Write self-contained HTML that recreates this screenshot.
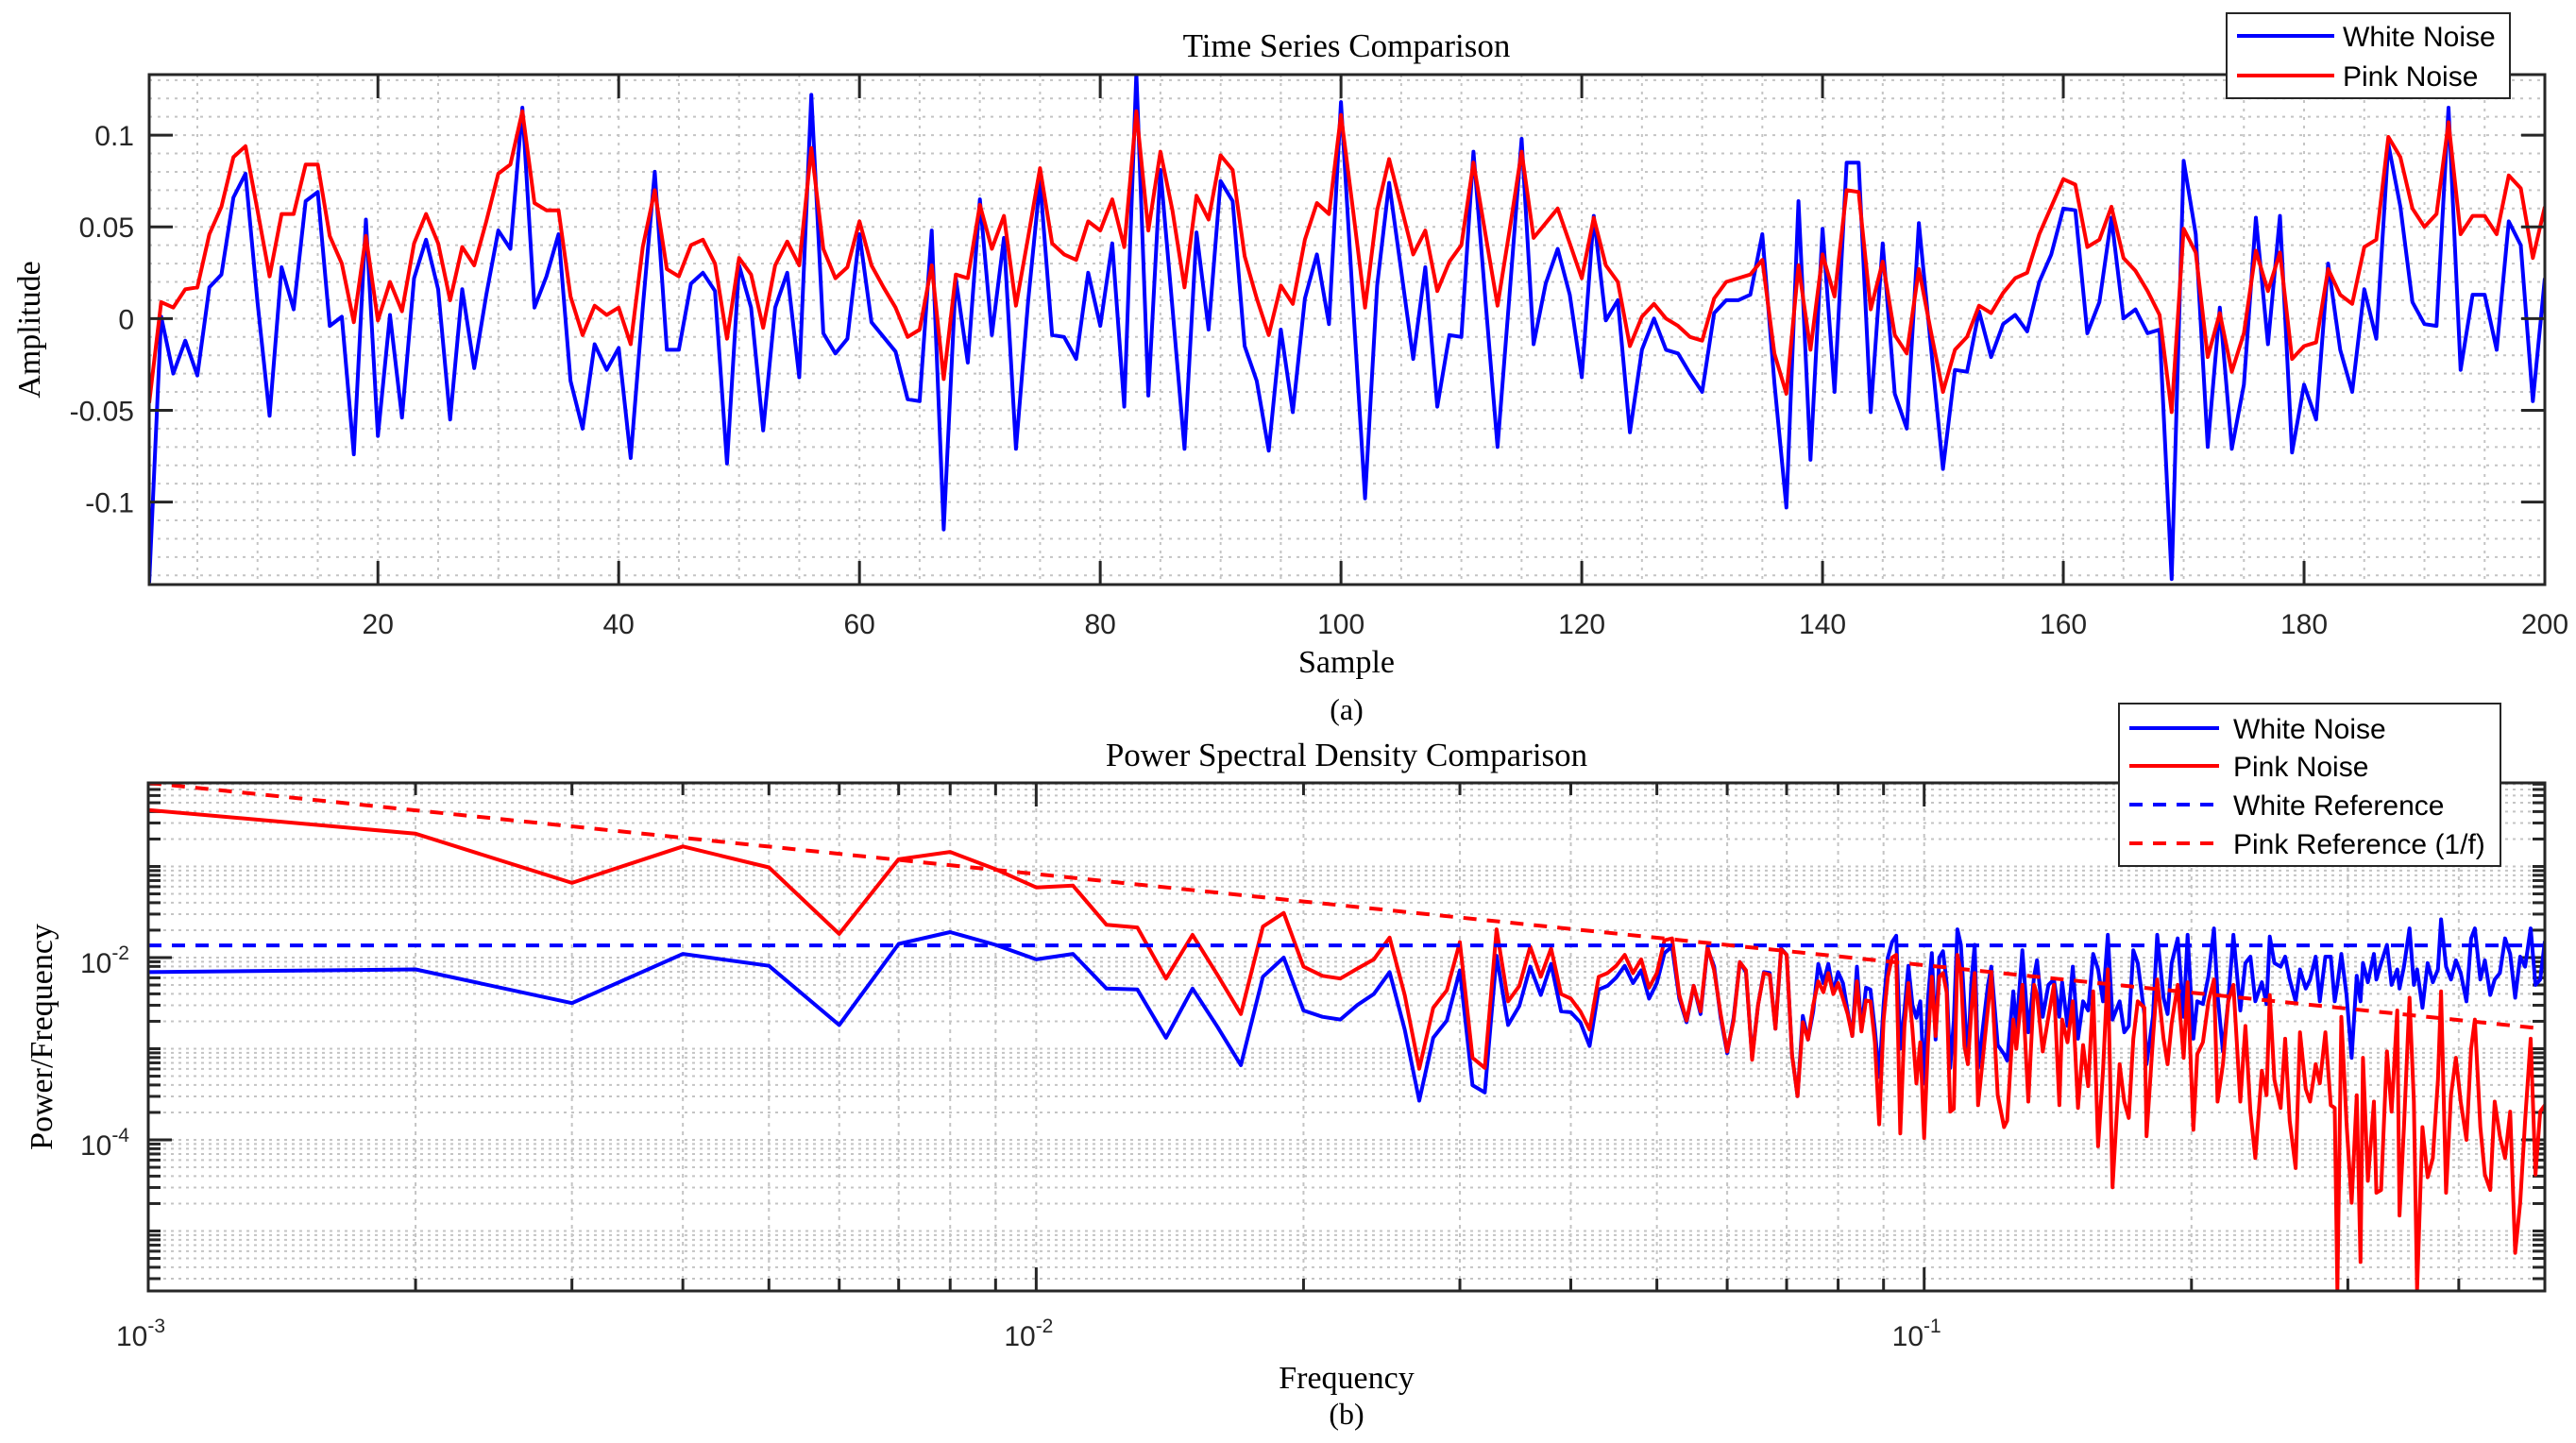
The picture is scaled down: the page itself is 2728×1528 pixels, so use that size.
<!DOCTYPE html>
<html><head><meta charset="utf-8"><style>
html,body{margin:0;padding:0;background:#fff;}
svg{display:block;}
.tick{font-family:"Liberation Sans",sans-serif;font-size:30px;fill:#262626;}
.ser{font-family:"Liberation Serif",serif;fill:#000;}
.leg{font-family:"Liberation Sans",sans-serif;font-size:30px;fill:#000;}
</style></head><body>
<svg id="fig" width="2728" height="1528" viewBox="0 0 2728 1528" xmlns="http://www.w3.org/2000/svg">
<rect width="2728" height="1528" fill="#fff"/>
<defs>
<clipPath id="clipTop"><rect x="158" y="79" width="2537" height="540"/></clipPath>
<clipPath id="clipBot"><rect x="157" y="829" width="2538" height="538"/></clipPath>
</defs>
<g id="topPanel"></g>
<g id="botPanel"></g>
<text class="ser" x="1426" y="60" font-size="35" text-anchor="middle">Time Series Comparison</text>
<text class="ser" x="1426" y="712" font-size="34" text-anchor="middle">Sample</text>
<text class="ser" x="1426" y="762" font-size="32" text-anchor="middle">(a)</text>
<text class="ser" x="0" y="0" font-size="34" text-anchor="middle" transform="translate(42,349) rotate(-90)">Amplitude</text>
<text class="ser" x="1426" y="811" font-size="35" text-anchor="middle">Power Spectral Density Comparison</text>
<text class="ser" x="1426" y="1470" font-size="34" text-anchor="middle">Frequency</text>
<text class="ser" x="1426" y="1508" font-size="32" text-anchor="middle">(b)</text>
<text class="ser" x="0" y="0" font-size="34" text-anchor="middle" transform="translate(55,1098) rotate(-90)">Power/Frequency</text>
</svg>
<script>
const sampleWhite=[-0.144,0.001,-0.030,-0.012,-0.031,0.017,0.024,0.066,0.079,0.009,
-0.053,0.028,0.005,0.064,0.069,-0.004,0.001,-0.074,0.054,-0.064,
0.002,-0.054,0.022,0.043,0.016,-0.055,0.016,-0.027,0.013,0.048,
0.038,0.115,0.006,0.023,0.046,-0.034,-0.060,-0.014,-0.028,-0.016,
-0.076,0.006,0.080,-0.017,-0.017,0.019,0.025,0.015,-0.079,0.029,
0.006,-0.061,0.006,0.025,-0.032,0.122,-0.008,-0.019,-0.011,0.046,
-0.002,-0.010,-0.018,-0.044,-0.045,0.048,-0.115,0.022,-0.024,0.065,
-0.009,0.044,-0.071,0.009,0.075,-0.009,-0.010,-0.022,0.025,-0.004,
0.041,-0.048,0.134,-0.042,0.081,0.006,-0.071,0.047,-0.006,0.075,
0.064,-0.015,-0.034,-0.072,-0.006,-0.051,0.011,0.035,-0.003,0.118,
0.008,-0.098,0.018,0.074,0.026,-0.022,0.028,-0.048,-0.009,-0.010,
0.091,0.010,-0.070,0.013,0.098,-0.014,0.019,0.038,0.013,-0.032,
0.056,-0.001,0.010,-0.062,-0.017,0.000,-0.017,-0.019,-0.030,-0.040,
0.003,0.010,0.010,0.013,0.046,-0.035,-0.103,0.064,-0.077,0.049,
-0.040,0.085,0.085,-0.051,0.041,-0.041,-0.060,0.052,-0.015,-0.082,
-0.028,-0.029,0.004,-0.021,-0.003,0.002,-0.007,0.020,0.035,0.060,
0.059,-0.008,0.009,0.055,0.000,0.005,-0.008,-0.006,-0.142,0.086,
0.046,-0.070,0.006,-0.071,-0.036,0.055,-0.014,0.056,-0.073,-0.036,
-0.055,0.030,-0.017,-0.040,0.016,-0.011,0.095,0.061,0.009,-0.003,
-0.004,0.115,-0.028,0.013,0.013,-0.017,0.053,0.040,-0.045,0.022];
const samplePink=[-0.046,0.009,0.006,0.016,0.017,0.046,0.061,0.088,0.094,0.059,
0.023,0.057,0.057,0.084,0.084,0.045,0.030,-0.002,0.045,-0.001,
0.020,0.004,0.041,0.057,0.041,0.010,0.039,0.029,0.053,0.079,
0.084,0.113,0.063,0.059,0.059,0.012,-0.009,0.007,0.002,0.006,
-0.014,0.039,0.070,0.027,0.023,0.040,0.043,0.030,-0.011,0.033,
0.024,-0.005,0.029,0.042,0.029,0.093,0.038,0.022,0.028,0.053,
0.029,0.017,0.006,-0.010,-0.006,0.029,-0.033,0.024,0.022,0.062,
0.038,0.056,0.007,0.044,0.082,0.041,0.035,0.032,0.053,0.048,
0.065,0.039,0.113,0.048,0.091,0.059,0.017,0.067,0.054,0.089,
0.081,0.034,0.011,-0.009,0.018,0.008,0.043,0.063,0.057,0.111,
0.059,0.006,0.059,0.087,0.061,0.035,0.048,0.015,0.031,0.040,
0.085,0.046,0.007,0.048,0.091,0.044,0.052,0.060,0.041,0.022,
0.055,0.029,0.020,-0.015,0.001,0.008,0.000,-0.004,-0.010,-0.012,
0.011,0.020,0.022,0.024,0.032,-0.019,-0.041,0.029,-0.017,0.035,
0.012,0.070,0.069,0.005,0.031,-0.009,-0.019,0.027,-0.007,-0.040,
-0.017,-0.010,0.007,0.003,0.014,0.022,0.025,0.046,0.061,0.076,
0.073,0.039,0.043,0.061,0.033,0.026,0.015,0.002,-0.051,0.049,
0.036,-0.021,0.003,-0.029,-0.008,0.037,0.015,0.036,-0.022,-0.015,
-0.013,0.027,0.013,0.008,0.039,0.043,0.099,0.088,0.060,0.050,
0.057,0.107,0.046,0.056,0.056,0.046,0.078,0.071,0.033,0.061];
const topXTicks=[20,40,60,80,100,120,140,160,180,200];
const topYTicks=[0.1,0.05,0,-0.05,-0.1];
const topYTickLabels=["0.1","0.05","0","-0.05","-0.1"];

const psdBins=[1,2,3,4,5,6,7,8,9,10,11,12,13,14,15,16,17,18,19,20,21,22,23,24,25,26,27,28,29,30,
31,32,33,34,35,36,37,38,39,40,41,42,43,44,45,46,47,48,49,50,51,52,53,54,55,56,57,58,59,60,
61,62,63,64,65,66,67,68,69,70,71,72,73,74,75,76,77,78,79,80,81,82,83,84,85,86,87,88,89,90,
91,92,93,94,95,96,97,98,99,100,101,102,103,104,105,106,107,108,109,110,111,112,113,114,115,
118,119,121,123,124,126,127,129,131,133,134,136,138,140,142,143,145,147,149,151,153,155,157,159,161,163,166,168,170,172,174,177,178,181,183,186,188,190,193,196,198,201,203,206,209,212,214,217,220,223,
227,230,233,236,240,243,245,248,252,255,258,262,265,269,272,276,279,283,287,290,292,295,299,303,307,310,312,316,321,323,327,332,336,341,343,347,352,356,359,364,369,374,379,382,387,392,397,402,408,413,417,423,428,434,439,445,451,457,463,469,475,482,488,494,500];
const psdWhiteLog10=[-2.16,-2.13,-2.50,-1.96,-2.09,-2.74,-1.85,-1.72,-1.86,-2.02,-1.96,-2.34,-2.35,-2.88,-2.34,-2.76,-3.18,-2.21,-2.00,-2.58,-2.65,-2.68,-2.52,-2.40,-2.16,-2.79,-3.57,-2.88,-2.69,-2.14,
-3.40,-3.48,-1.98,-2.74,-2.53,-2.10,-2.41,-2.07,-2.59,-2.60,-2.71,-2.97,-2.35,-2.31,-2.22,-2.09,-2.28,-2.14,-2.45,-2.28,-1.95,-1.88,-2.45,-2.71,-2.31,-2.62,-1.90,-2.10,-2.66,-3.05,
-2.66,-2.05,-2.16,-3.10,-2.52,-2.16,-2.17,-2.78,-1.90,-1.97,-3.07,-3.52,-2.64,-2.90,-2.59,-2.07,-2.28,-2.07,-2.38,-2.16,-2.28,-2.59,-2.86,-2.10,-2.79,-2.33,-2.35,-2.79,-3.31,-2.52,
-2.00,-1.83,-1.76,-3.00,-2.59,-2.09,-2.52,-2.66,-2.48,-3.38,-2.45,-1.95,-2.90,-2.00,-1.93,-2.28,-3.21,-2.69,-1.69,-1.86,-2.52,-3.14,-2.28,-1.86,-3.21,
-2.30,-2.10,-2.96,-3.06,-3.13,-2.37,-2.79,-1.92,-2.82,-2.20,-2.03,-2.65,-2.30,-2.24,-2.65,-2.27,-2.75,-2.10,-2.89,-2.48,-2.58,-1.96,-2.13,-2.48,-1.75,-2.68,-2.48,-2.82,-2.75,-1.92,-2.06,-2.62,-3.17,-2.65,-1.75,-2.44,-2.62,-2.06,-1.79,-2.65,-1.75,-2.89,-2.48,-2.51,-2.20,-1.68,-2.41,-3.03,-2.48,-1.75,
-2.58,-2.06,-1.99,-2.48,-2.27,-2.51,-1.77,-2.06,-2.10,-1.99,-2.24,-2.48,-2.13,-2.34,-2.24,-1.99,-2.48,-1.99,-1.99,-2.48,-2.30,-1.96,-2.41,-3.10,-2.20,-2.48,-2.06,-2.27,-1.96,-2.24,-2.06,-1.86,-2.30,-2.13,-2.34,-2.10,-1.68,-2.30,-2.13,-2.55,-2.06,-2.27,-2.13,-1.58,-2.10,-2.24,-2.03,-2.17,-2.48,-1.79,-1.68,-2.24,-2.03,-2.41,-2.24,-2.17,-1.79,-1.96,-2.44,-1.99,-2.10,-1.68,-2.30,-2.24,-1.82];
const psdPinkLog10=[-0.38,-0.64,-1.18,-0.78,-1.01,-1.74,-0.92,-0.84,-1.03,-1.23,-1.21,-1.64,-1.67,-2.23,-1.75,-2.19,-2.62,-1.66,-1.51,-2.10,-2.20,-2.23,-2.12,-2.02,-1.78,-2.41,-3.22,-2.55,-2.36,-1.83,
-3.10,-3.21,-1.69,-2.48,-2.31,-1.88,-2.21,-1.90,-2.40,-2.45,-2.59,-2.79,-2.21,-2.17,-2.09,-1.97,-2.17,-2.02,-2.33,-2.17,-1.81,-1.79,-2.41,-2.69,-2.31,-2.59,-1.88,-2.14,-2.62,-3.03,
-2.69,-2.05,-2.14,-3.12,-2.52,-2.17,-2.19,-2.78,-1.91,-1.97,-3.07,-3.52,-2.71,-2.90,-2.52,-2.26,-2.38,-2.17,-2.40,-2.28,-2.45,-2.62,-2.86,-2.26,-2.81,-2.47,-2.48,-2.93,-3.83,-2.69,
-2.21,-2.00,-1.97,-3.93,-2.76,-2.28,-2.79,-3.38,-2.93,-3.98,-2.93,-2.21,-2.86,-2.21,-2.17,-2.38,-3.69,-3.66,-1.97,-2.17,-2.97,-3.17,-2.59,-2.17,-3.62,
-2.55,-2.17,-3.51,-3.86,-3.79,-2.68,-3.00,-2.30,-3.58,-2.30,-2.41,-3.03,-2.65,-2.30,-3.62,-2.68,-2.93,-2.48,-3.65,-2.96,-3.41,-2.37,-4.07,-3.24,-2.13,-4.52,-3.17,-3.58,-3.76,-2.89,-2.48,-2.55,-3.96,-2.89,-2.24,-2.89,-3.17,-2.72,-2.30,-3.10,-2.27,-3.89,-3.06,-2.93,-2.48,-2.24,-3.58,-3.17,-2.48,-2.30,
-3.58,-2.75,-3.69,-4.20,-3.24,-3.51,-2.41,-3.34,-3.65,-2.89,-3.79,-4.31,-2.82,-3.44,-3.58,-3.17,-3.38,-2.82,-3.62,-3.65,-5.65,-2.65,-3.82,-4.69,-3.51,-5.34,-3.10,-4.45,-3.58,-4.58,-4.55,-3.03,-3.69,-2.58,-4.83,-3.86,-2.44,-3.58,-5.65,-3.86,-4.41,-4.20,-3.34,-2.37,-4.58,-3.51,-3.10,-3.58,-4.00,-3.00,-2.68,-3.86,-4.38,-4.55,-3.58,-3.96,-4.20,-3.69,-5.24,-4.69,-3.79,-2.89,-4.38,-3.69,-3.62];
const whiteRefLevel=0.0136;
const pinkRefCoef=0.000826;
const psdXTickExps=[-3,-2,-1];
const psdYTickExps=[-2,-4];

const NS="http://www.w3.org/2000/svg";
function mk(tag,attrs,parent){const e=document.createElementNS(NS,tag);for(const k in attrs)e.setAttribute(k,attrs[k]);parent.appendChild(e);return e;}
const topG=document.getElementById('topPanel');
const botG=document.getElementById('botPanel');

function poly(xs,ys,fx,fy,color,clip,parent,name,dash){
  const p=xs.map((x,i)=>fx(x).toFixed(1)+','+fy(ys[i]).toFixed(1)).join(' ');
  const el=mk('polyline',{points:p,fill:'none',stroke:color,'stroke-width':4,'stroke-linejoin':'round','clip-path':'url(#'+clip+')'},parent);
  if(dash)el.setAttribute('stroke-dasharray',dash);
  
  
  return el;
}

// ---------- TOP PANEL ----------
const T={x0:158,x1:2695,y0:79,y1:619,xmin:1,xmax:200,ymin:-0.145,ymax:0.133};
const xTop=n=>T.x0+(n-T.xmin)/(T.xmax-T.xmin)*(T.x1-T.x0);
const yTop=v=>T.y0+(T.ymax-v)/(T.ymax-T.ymin)*(T.y1-T.y0);
const gridT=mk('g',{},topG);


for(let n=5;n<=200;n+=5){const x=xTop(n);mk('line',{x1:x,x2:x,y1:T.y0,y2:T.y1,stroke:'#c4c4c4','stroke-width':2,'stroke-dasharray':'3,6'},gridT);}
for(let i=-14;i<=13;i++){const v=i*0.01;const y=yTop(v);mk('line',{x1:T.x0,x2:T.x1,y1:y,y2:y,stroke:'#c4c4c4','stroke-width':2,'stroke-dasharray':'3,6'},gridT);}
const sampleIdx=sampleWhite.map((_,i)=>i+1);
poly(sampleIdx,sampleWhite,xTop,yTop,'#0000ff','clipTop',topG,'white-noise-line');
poly(sampleIdx,samplePink,xTop,yTop,'#ff0000','clipTop',topG,'pink-noise-line');
mk('rect',{x:T.x0,y:T.y0,width:T.x1-T.x0,height:T.y1-T.y0,fill:'none',stroke:'#262626','stroke-width':3},topG);
topXTicks.forEach(n=>{const x=xTop(n);
  mk('line',{x1:x,x2:x,y1:T.y1,y2:T.y1-25,stroke:'#262626','stroke-width':3},topG);
  mk('line',{x1:x,x2:x,y1:T.y0,y2:T.y0+25,stroke:'#262626','stroke-width':3},topG);
  const t=mk('text',{class:'tick',x:x,y:T.y1+52,'text-anchor':'middle'},topG);t.textContent=n;
  
  });
topYTicks.forEach((v,i)=>{const y=yTop(v);
  mk('line',{x1:T.x0,x2:T.x0+25,y1:y,y2:y,stroke:'#262626','stroke-width':3},topG);
  mk('line',{x1:T.x1,x2:T.x1-25,y1:y,y2:y,stroke:'#262626','stroke-width':3},topG);
  const t=mk('text',{class:'tick',x:T.x0-16,y:y+11,'text-anchor':'end'},topG);t.textContent=topYTickLabels[i];
  
  });
const lg=mk('g',{},topG);


mk('rect',{x:2358,y:14,width:300,height:90,fill:'#fff',stroke:'#262626','stroke-width':2},lg);
[['White Noise','#0000ff',38],['Pink Noise','#ff0000',80]].forEach(([lab,c,y])=>{
  const e=mk('g',{},lg);
  
  
  mk('line',{x1:2369,x2:2472,y1:y,y2:y,stroke:c,'stroke-width':4},e);
  const t=mk('text',{class:'leg',x:2481,y:y+11},e);t.textContent=lab;});

// ---------- BOTTOM PANEL ----------
const B={x0:157,x1:2695,y0:829,y1:1367,lxmin:-3,lxmax:Math.log10(0.5),lymin:-5.658,lymax:-0.083};
const xLog=f=>B.x0+(Math.log10(f)-B.lxmin)/(B.lxmax-B.lxmin)*(B.x1-B.x0);
const yLog=lp=>B.y0+(B.lymax-lp)/(B.lymax-B.lymin)*(B.y1-B.y0);
const gridB=mk('g',{},botG);


for(let e=-3;e<=-1;e++)for(let m=1;m<=9;m++){const f=m*Math.pow(10,e);if(f>0.5)continue;const x=xLog(f);
  mk('line',{x1:x,x2:x,y1:B.y0,y2:B.y1,stroke:'#c4c4c4','stroke-width':2,'stroke-dasharray':'4,5'},gridB);}
for(let e=-6;e<=0;e++)for(let m=1;m<=9;m++){const lp=Math.log10(m)+e;if(lp<B.lymin||lp>B.lymax)continue;const y=yLog(lp);
  mk('line',{x1:B.x0,x2:B.x1,y1:y,y2:y,stroke:'#c4c4c4','stroke-width':2,'stroke-dasharray':'3,5'},gridB);
  mk('line',{x1:B.x0,x2:B.x0+(m===1&&e%2===0?25:13),y1:y,y2:y,stroke:'#262626','stroke-width':3},botG);
  mk('line',{x1:B.x1,x2:B.x1-(m===1&&e%2===0?25:13),y1:y,y2:y,stroke:'#262626','stroke-width':3},botG);}
const psdFreq=psdBins.map(k=>k/1000);
poly(psdFreq,psdWhiteLog10,xLog,yLog,'#0000ff','clipBot',botG,'white-noise-psd-line');
poly(psdFreq,psdPinkLog10,xLog,yLog,'#ff0000','clipBot',botG,'pink-noise-psd-line');
poly([0.001,0.5],[Math.log10(whiteRefLevel),Math.log10(whiteRefLevel)],xLog,yLog,'#0000ff','clipBot',botG,'white-reference-line','14,11');
poly([0.001,0.5],[Math.log10(pinkRefCoef/0.001),Math.log10(pinkRefCoef/0.5)],xLog,yLog,'#ff0000','clipBot',botG,'pink-reference-line','14,11');
mk('rect',{x:B.x0,y:B.y0,width:B.x1-B.x0,height:B.y1-B.y0,fill:'none',stroke:'#262626','stroke-width':3},botG);
for(let e=-3;e<=-1;e++)for(let m=1;m<=9;m++){const f=m*Math.pow(10,e);if(f>0.5)continue;const x=xLog(f);const L=m===1?25:13;
  mk('line',{x1:x,x2:x,y1:B.y1,y2:B.y1-L,stroke:'#262626','stroke-width':3},botG);
  mk('line',{x1:x,x2:x,y1:B.y0,y2:B.y0+L,stroke:'#262626','stroke-width':3},botG);}
psdXTickExps.forEach(e=>{const x=xLog(Math.pow(10,e));
  const t=mk('text',{class:'tick',x:x-8,y:B.y1+58,'text-anchor':'middle'},botG);
  
  
  t.appendChild(document.createTextNode('10'));
  const s=mk('tspan',{dy:-14,'font-size':21},t);s.textContent=String(e);});
psdYTickExps.forEach(e=>{const y=yLog(e);
  const t=mk('text',{class:'tick',x:B.x0-20,y:y+16,'text-anchor':'end'},botG);
  
  
  t.appendChild(document.createTextNode('10'));
  const s=mk('tspan',{dy:-14,'font-size':21},t);s.textContent=String(e);});
const lb=mk('g',{},botG);


mk('rect',{x:2244,y:745,width:404,height:172,fill:'#fff',stroke:'#262626','stroke-width':2},lb);
[['White Noise','#0000ff',771,null],['Pink Noise','#ff0000',811,null],['White Reference','#0000ff',852,'14,11'],['Pink Reference (1/f)','#ff0000',893,'14,11']].forEach(([lab,c,y,d])=>{
  const e=mk('g',{},lb);
  
  
  const l=mk('line',{x1:2255,x2:2350,y1:y,y2:y,stroke:c,'stroke-width':4},e);
  if(d)l.setAttribute('stroke-dasharray',d);
  const t=mk('text',{class:'leg',x:2365,y:y+11},e);t.textContent=lab;});
</script>
</body></html>
